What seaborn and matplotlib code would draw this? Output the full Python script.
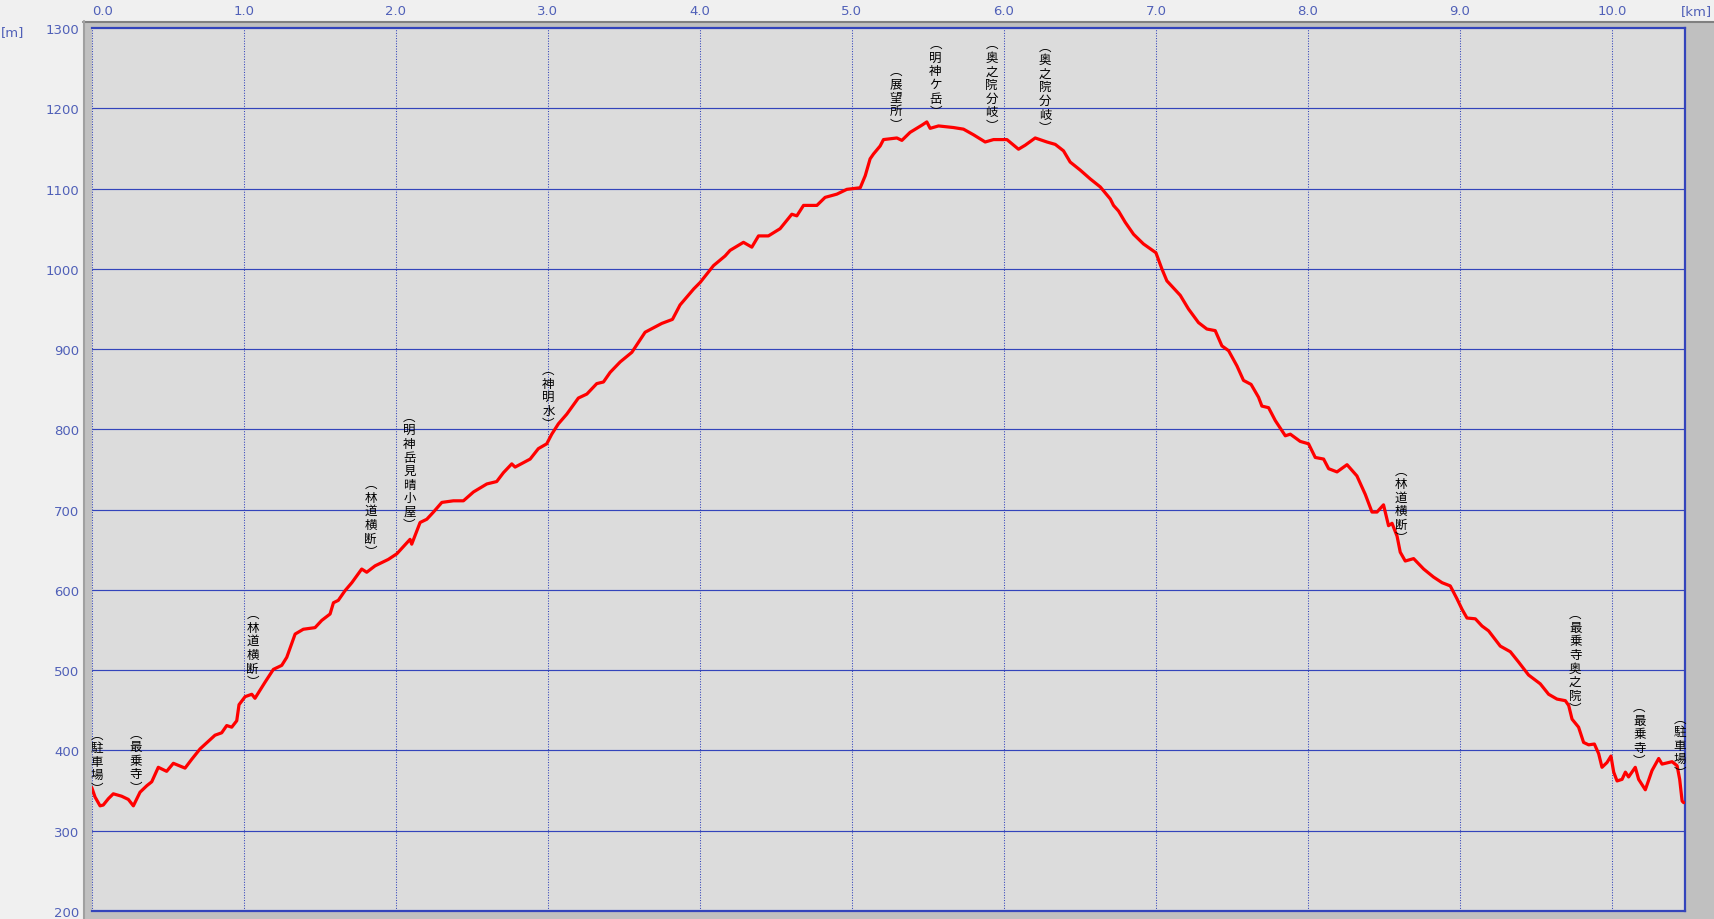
import numpy as np
import pandas as pd
import seaborn as sns
import matplotlib.pyplot as plt
from matplotlib.patches import Rectangle
from matplotlib.lines import Line2D

# elevation profile
dist_km = [0.000, 0.022, 0.055, 0.076, 0.110, 0.142, 0.197, 0.241, 0.274, 0.318,
           0.362, 0.395, 0.438, 0.493, 0.537, 0.614, 0.658, 0.713, 0.811, 0.855,
           0.888, 0.921, 0.954, 0.969, 1.009, 1.053, 1.074, 1.140, 1.195, 1.250,
           1.283, 1.338, 1.392, 1.469, 1.513, 1.568, 1.590, 1.622, 1.666, 1.711,
           1.776, 1.809, 1.864, 1.951, 2.007, 2.094, 2.105, 2.160, 2.204, 2.248,
           2.303, 2.379, 2.445, 2.511, 2.599, 2.664, 2.708, 2.763, 2.785, 2.884,
           2.938, 2.993, 3.026, 3.070, 3.125, 3.201, 3.257, 3.322, 3.366, 3.410,
           3.476, 3.553, 3.640, 3.750, 3.820, 3.870, 3.960, 4.002, 4.090, 4.166,
           4.199, 4.287, 4.342, 4.386, 4.451, 4.528, 4.605, 4.638, 4.682, 4.770,
           4.824, 4.901, 4.967, 5.055, 5.088, 5.120, 5.142, 5.186, 5.208, 5.296,
           5.329, 5.383, 5.461, 5.493, 5.515, 5.570, 5.668, 5.734, 5.800, 5.877,
           5.932, 6.020, 6.096, 6.140, 6.206, 6.283, 6.338, 6.392, 6.436, 6.502,
           6.568, 6.634, 6.700, 6.721, 6.754, 6.798, 6.853, 6.918, 7.000, 7.039,
           7.072, 7.160, 7.214, 7.280, 7.335, 7.390, 7.434, 7.478, 7.533, 7.576,
           7.626, 7.675, 7.697, 7.741, 7.785, 7.851, 7.884, 7.949, 8.004, 8.048,
           8.103, 8.136, 8.191, 8.257, 8.322, 8.377, 8.421, 8.454, 8.497, 8.530,
           8.553, 8.586, 8.607, 8.640, 8.695, 8.761, 8.826, 8.882, 8.936, 8.980,
           9.013, 9.046, 9.101, 9.145, 9.188, 9.265, 9.331, 9.386, 9.451, 9.528,
           9.583, 9.638, 9.693, 9.715, 9.737, 9.780, 9.813, 9.846, 9.884, 9.912,
           9.934, 9.967, 9.993, 10.011, 10.033, 10.066, 10.088, 10.109, 10.153, 10.175,
           10.219, 10.263, 10.307, 10.329, 10.395, 10.428, 10.445, 10.461, 10.471]
elev_m = [354, 342, 331, 332, 340, 346, 343, 339, 331, 348,
          356, 361, 379, 374, 384, 378, 389, 402, 419, 422,
          431, 429, 437, 457, 467, 470, 465, 485, 501, 506,
          516, 545, 551, 553, 562, 570, 584, 587, 599, 609,
          626, 622, 630, 638, 645, 663, 657, 684, 688, 697,
          709, 711, 711, 722, 732, 735, 746, 757, 753, 763,
          776, 782, 794, 807, 819, 839, 844, 857, 859, 871,
          884, 896, 921, 932, 937, 955, 975, 983, 1004, 1016,
          1023, 1033, 1027, 1041, 1041, 1050, 1068, 1066, 1079, 1079,
          1089, 1093, 1099, 1101, 1116, 1137, 1143, 1153, 1161, 1163,
          1160, 1170, 1179, 1183, 1175, 1178, 1176, 1174, 1167, 1158,
          1161, 1161, 1149, 1154, 1163, 1158, 1155, 1147, 1133, 1123,
          1112, 1102, 1087, 1079, 1072, 1058, 1043, 1031, 1020, 1000,
          985, 967, 950, 933, 925, 923, 904, 898, 879, 861,
          856, 840, 829, 827, 811, 792, 794, 785, 782, 765,
          763, 751, 747, 756, 742, 719, 697, 697, 706, 680,
          683, 667, 647, 636, 639, 626, 616, 609, 605, 589,
          576, 565, 564, 555, 549, 530, 523, 510, 494, 483,
          470, 464, 462, 456, 439, 429, 410, 407, 408, 396,
          379, 385, 393, 373, 362, 364, 373, 367, 379, 364,
          351, 375, 390, 383, 386, 381, 364, 337, 335]

# waypoint labels: position along the track and elevation of the label foot
label_names = ["駐車場", "最乗寺", "林道横断", "林道横断", "明神岳見晴小屋", "神明水",
               "展望所", "明神ケ岳", "奥之院分岐", "奥之院分岐", "林道横断",
               "最乗寺奥之院", "最乗寺", "駐車場"]
label_km = [0.033, 0.291, 1.059, 1.835, 2.090, 3.004, 5.29, 5.55, 5.92, 6.27,
            8.612, 9.758, 10.180, 10.445]
label_m = [356, 357, 489, 651, 684, 810, 1183, 1199, 1182, 1179, 668, 455, 390, 376]

x_ticks = [0, 1, 2, 3, 4, 5, 6, 7, 8, 9, 10]
y_ticks = [200, 300, 400, 500, 600, 700, 800, 900, 1000, 1100, 1200, 1300]

df = pd.DataFrame({"km": dist_km, "m": elev_m})

sns.set_theme(style="white")
plt.rcParams['font.family'] = ['DejaVu Sans', 'Noto Sans CJK JP']

W, H = 1714, 920
blue = '#3344bb'
tick_col = '#5060b8'

fig = plt.figure(figsize=(W / 100, H / 100), dpi=100, facecolor='#f0f0f0')

# sunken grey frame around the plot
fig.add_artist(Rectangle((83 / W, 0), 1 - 83 / W, (H - 22) / H, transform=fig.transFigure,
                         facecolor='#c0c0c0', edgecolor='none', zorder=0))
fig.add_artist(Line2D([83 / W, 1], [(H - 23) / H] * 2, transform=fig.transFigure,
                      color='#808080', lw=1.5, zorder=1))
fig.add_artist(Line2D([84 / W] * 2, [0, (H - 22) / H], transform=fig.transFigure,
                      color='#a0a0a0', lw=1.5, zorder=1))

ax = fig.add_axes([91.7 / W, 8 / H, (1685 - 91.7) / W, (912 - 29) / H])
ax.set_facecolor('#dcdcdc')

ax.set_xlim(0, 10.48)
ax.set_ylim(200, 1300)

for y in y_ticks[1:-1]:
    ax.axhline(y, color=blue, lw=0.85, zorder=1)
for x in x_ticks:
    ax.axvline(x, color=blue, lw=0.75, ls=(0, (1, 1.5)), zorder=1)

sns.lineplot(data=df, x="km", y="m", ax=ax, color='#ff0000', lw=2.3, sort=False,
             estimator=None, zorder=3)

for name, km, m in zip(label_names, label_km, label_m):
    ax.annotate("\n".join("︵" + name + "︶"), xy=(km, m), xytext=(0, -6.5),
                textcoords='offset points', ha='center', va='bottom',
                multialignment='center', fontsize=9, linespacing=1.06, color='#000000',
                family=['Noto Sans CJK JP', 'DejaVu Sans'], zorder=4)

ax.xaxis.tick_top()
ax.set_xticks(x_ticks)
ax.set_xticklabels([f"{v:.1f}" for v in x_ticks])
ax.set_yticks(y_ticks)
ax.set_yticklabels([str(v) for v in y_ticks])
ax.tick_params(axis='x', length=0, pad=8, labelsize=9.5, colors=tick_col)
ax.tick_params(axis='y', length=0, pad=9, labelsize=9.5, colors=tick_col)
ax.get_xticklabels()[0].set_horizontalalignment('left')
ax.set_xlabel("")
ax.set_ylabel("")

for side in ['top', 'right', 'bottom']:
    ax.spines[side].set_color(blue)
    ax.spines[side].set_linewidth(1.6)
ax.spines['left'].set_visible(False)

fig.text(1 / W, 1 - 33 / H, "[m]", ha='left', va='center', fontsize=9.5, color=tick_col)
fig.text(1712 / W, 1 - 12 / H, "[km]", ha='right', va='center', fontsize=9.5, color=tick_col)

fig.savefig("out.png", dpi=100, facecolor=fig.get_facecolor())
